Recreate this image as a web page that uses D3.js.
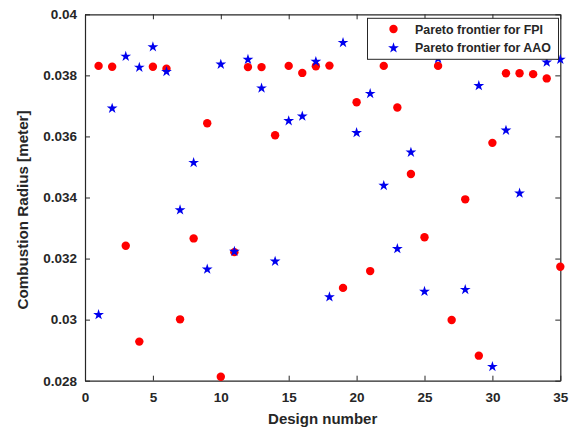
<!DOCTYPE html>
<html>
<head>
<meta charset="utf-8">
<script src="https://cdn.jsdelivr.net/npm/d3@7"></script>
<style>
  html, body { margin: 0; padding: 0; background: #fff; }
  svg { display: block; }
  text { font-family: "Liberation Sans", Arial, sans-serif; font-weight: bold; fill: #262626; }
</style>
</head>
<body>
<svg id="chart" width="577" height="430"></svg>
<script>
// Design numbers 1..35
const designs = d3.range(1, 36);

// Combustion radius (m) on the Pareto frontier, FPI approach
const fpiRadius = [
  0.03831, 0.03828, 0.03242, 0.02928, 0.03828, 0.03822, 0.03001, 0.03266, 0.03643, 0.02813,
  0.03221, 0.03827, 0.03827, 0.03604, 0.03831, 0.03808, 0.03830, 0.03832, 0.03104, 0.03712,
  0.03159, 0.03831, 0.03695, 0.03477, 0.03270, 0.03831, 0.02999, 0.03394, 0.02882, 0.03579,
  0.03807, 0.03807, 0.03804, 0.03790, 0.03173
];

// Combustion radius (m) on the Pareto frontier, AAO approach (null = not shown)
const aaoRadius = [
  0.03018, 0.03694, 0.03864, 0.03828, 0.03895, 0.03814, 0.03361, 0.03516, 0.03167, 0.03838,
  0.03225, 0.03854, 0.03760, 0.03193, 0.03653, 0.03668, 0.03847, 0.03076, 0.03909, 0.03614,
  0.03742, 0.03441, 0.03234, 0.03550, 0.03094, 0.03857, null,    0.03100, 0.03768, 0.02848,
  0.03622, 0.03416, null,    0.03845, 0.03854
];

const xTicks = [0, 5, 10, 15, 20, 25, 30, 35];
const yTicks = [0.028, 0.030, 0.032, 0.034, 0.036, 0.038, 0.040];
const yTickLabels = ["0.028", "0.03", "0.032", "0.034", "0.036", "0.038", "0.04"];

const seriesNames = ["Pareto frontier for FPI", "Pareto frontier for AAO"];

const svg = d3.select("#chart");
const plotL = 85, plotR = 560.3, plotT = 14.3, plotB = 380.7;
const axisColor = "#262626";

const x = d3.scaleLinear().domain([0, 35]).range([plotL, plotR]);
const y = d3.scaleLinear().domain([0.028, 0.04]).range([plotB, plotT]);

const tickLen = 5;

// bottom axis (ticks point inward)
const gx = svg.append("g").attr("transform", `translate(0,${plotB})`)
  .call(d3.axisBottom(x).tickValues(xTicks).tickSizeInner(-tickLen).tickSizeOuter(0).tickPadding(12));
// left axis
const gy = svg.append("g").attr("transform", `translate(${plotL},0)`)
  .call(d3.axisLeft(y).tickValues(yTicks).tickFormat((d, i) => yTickLabels[i])
    .tickSizeInner(-tickLen).tickSizeOuter(0).tickPadding(8));
// top and right mirror axes, ticks only
const gt = svg.append("g").attr("transform", `translate(0,${plotT})`)
  .call(d3.axisTop(x).tickValues(xTicks).tickSizeInner(-tickLen).tickSizeOuter(0).tickFormat(""));
const gr = svg.append("g").attr("transform", `translate(${plotR},0)`)
  .call(d3.axisRight(y).tickValues(yTicks).tickSizeInner(-tickLen).tickSizeOuter(0).tickFormat(""));

[gx, gy, gt, gr].forEach(g => {
  g.select(".domain").attr("stroke", axisColor).attr("stroke-width", 1.2);
  g.selectAll(".tick line").attr("stroke", axisColor).attr("stroke-width", 1);
  g.selectAll(".tick text").attr("fill", axisColor)
    .style("font-family", '"Liberation Sans", Arial, sans-serif')
    .style("font-weight", "bold").style("font-size", "13.5px");
});

// axis titles
svg.append("text")
  .attr("x", (plotL + plotR) / 2).attr("y", 424)
  .attr("text-anchor", "middle").style("font-size", "15px")
  .text("Design number");
svg.append("text")
  .attr("transform", `translate(28,210) rotate(-90)`)
  .attr("text-anchor", "middle").style("font-size", "15.2px")
  .text("Combustion Radius [meter]");

const red = "#ff0000", blue = "#0000ee";
const star = d3.symbol().type(d3.symbolStar).size(36);

// FPI markers
svg.append("g").selectAll("circle")
  .data(designs.map((d, i) => [d, fpiRadius[i]]))
  .join("circle")
  .attr("cx", d => x(d[0])).attr("cy", d => y(d[1]))
  .attr("r", 4.2).attr("fill", red);

// AAO markers
svg.append("g").selectAll("path")
  .data(designs.map((d, i) => [d, aaoRadius[i]]).filter(d => d[1] != null))
  .join("path")
  .attr("transform", d => `translate(${x(d[0])},${y(d[1]) + 0.6})`)
  .attr("d", star).attr("fill", blue);

// legend
const lg = svg.append("g");
lg.append("rect")
  .attr("x", 367.5).attr("y", 18.3).attr("width", 191).attr("height", 41)
  .attr("fill", "#fff").attr("stroke", axisColor).attr("stroke-width", 1);
lg.append("circle").attr("cx", 393.5).attr("cy", 29).attr("r", 4.2).attr("fill", red);
lg.append("path").attr("transform", "translate(393.5,48)").attr("d", star).attr("fill", blue);
lg.selectAll("text.lbl").data(seriesNames).join("text")
  .attr("class", "lbl")
  .attr("x", 415).attr("y", (d, i) => 33.5 + i * 18.5)
  .style("font-size", "12.4px")
  .text(d => d);
</script>
</body>
</html>
